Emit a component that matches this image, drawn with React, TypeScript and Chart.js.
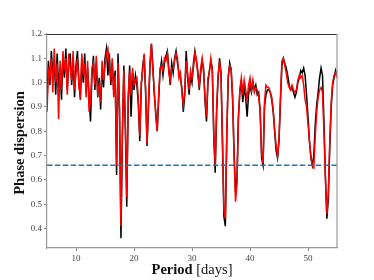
import React, { useEffect, useRef } from "react";
import { Chart, registerables } from "chart.js";

Chart.register(...registerables);

// Period grid: starts at 5 days, 0.25-day steps, up to 55 days
const PERIOD_START = 5;
const PERIOD_STEP = 0.25;

// Phase dispersion, first series (black), 4 samples per day
const BLACK_VALUES = [
  0.92, 1.09, 0.99, 1.13, // 5
  1.03, 1.10, 0.95, 1.12, // 6
  0.98, 1.06, 0.93, 1.11, // 7
  1.02, 1.14, 0.97, 1.08, // 8
  1.12, 0.99, 1.10, 0.94, // 9
  1.07, 1.13, 1.01, 0.93, // 10
  1.09, 1.00, 1.12, 0.96, // 11
  1.06, 0.95, 0.84, 1.03, // 12
  1.11, 0.97, 1.08, 0.94, // 13
  1.02, 0.89, 1.06, 0.98, // 14
  1.10, 1.14, 1.03, 1.12, // 15
  0.99, 1.08, 0.97, 1.05, // 16
  0.62, 1.12, 0.88, 0.36, // 17
  0.78, 1.07, 0.82, 0.49, // 18
  0.92, 1.07, 0.86, 1.04, // 19
  0.97, 1.03, 0.99, 0.91, // 20
  0.76, 0.98, 1.07, 1.11, // 21
  0.96, 0.74, 0.90, 1.06, // 22
  1.16, 1.07, 0.95, 0.88, // 23
  0.80, 0.93, 1.05, 1.09, // 24
  1.03, 1.08, 1.11, 1.13, // 25
  1.06, 0.99, 1.08, 1.04, // 26
  1.10, 1.13, 1.08, 1.04, // 27
  1.02, 0.98, 0.88, 0.95, // 28
  1.13, 1.02, 0.95, 1.03, // 29
  1.00, 1.08, 1.13, 1.09, // 30
  1.05, 0.97, 1.04, 1.09, // 31
  1.06, 0.92, 0.84, 1.00, // 32
  1.05, 1.09, 1.06, 0.78, // 33
  0.63, 0.88, 1.02, 1.10, // 34
  1.04, 0.75, 0.45, 0.41, // 35
  0.78, 1.02, 1.08, 1.05, // 36
  0.93, 0.72, 0.55, 0.60, // 37
  0.86, 0.96, 1.01, 0.92, // 38
  0.98, 0.94, 0.86, 0.95, // 39
  0.99, 0.96, 1.00, 0.97, // 40
  0.99, 0.95, 0.96, 0.88, // 41
  0.69, 0.66, 0.90, 0.95, // 42
  0.97, 0.97, 0.96, 0.93, // 43
  0.88, 0.80, 0.72, 0.69, // 44
  0.76, 0.92, 1.07, 1.10, // 45
  1.08, 1.06, 1.03, 0.99, // 46
  0.97, 0.98, 0.96, 0.94, // 47
  0.96, 1.00, 1.02, 1.05, // 48
  1.04, 1.06, 1.03, 0.95, // 49
  0.86, 0.76, 0.69, 0.66, // 50
  0.70, 0.83, 0.91, 0.96, // 51
  1.02, 1.06, 1.03, 0.84, // 52
  0.62, 0.44, 0.52, 0.73, // 53
  0.90, 0.99, 1.02, 1.05, // 54
  1.03, // 55
];

// Phase dispersion, second series (red), same grid
const RED_VALUES = [
  0.88, 1.05, 1.02, 1.10, // 5
  0.96, 1.14, 1.00, 1.08, // 6
  0.85, 1.09, 0.97, 1.13, // 7
  1.05, 1.10, 0.95, 1.12, // 8
  1.06, 1.01, 1.13, 0.97, // 9
  1.04, 1.10, 0.98, 0.95, // 10
  1.12, 1.03, 1.08, 0.94, // 11
  1.09, 0.88, 0.92, 1.06, // 12
  1.08, 0.99, 1.11, 0.96, // 13
  0.99, 0.92, 1.09, 1.01, // 14
  1.07, 1.12, 1.14, 1.06, // 15
  1.02, 1.10, 0.94, 1.03, // 16
  0.66, 1.08, 0.90, 0.41, // 17
  0.80, 1.05, 0.85, 0.53, // 18
  0.95, 1.05, 0.95, 1.06, // 19
  0.99, 1.01, 1.02, 0.93, // 20
  0.78, 1.00, 1.05, 1.12, // 21
  0.98, 0.75, 0.92, 1.08, // 22
  1.16, 1.05, 0.97, 0.86, // 23
  0.80, 0.95, 1.06, 1.07, // 24
  1.05, 1.10, 1.09, 1.12, // 25
  1.04, 1.01, 1.06, 1.06, // 26
  1.09, 1.12, 1.10, 1.02, // 27
  1.04, 0.96, 0.91, 0.97, // 28
  1.09, 1.04, 0.97, 1.05, // 29
  1.02, 1.06, 1.12, 1.10, // 30
  1.03, 0.99, 1.06, 1.10, // 31
  1.04, 0.94, 0.86, 1.02, // 32
  1.04, 1.10, 1.05, 0.80, // 33
  0.66, 0.90, 1.03, 1.09, // 34
  1.03, 0.78, 0.48, 0.44, // 35
  0.80, 1.03, 1.07, 1.06, // 36
  0.95, 0.70, 0.51, 0.58, // 37
  0.85, 0.97, 1.02, 0.95, // 38
  1.01, 0.97, 0.93, 0.99, // 39
  1.02, 0.97, 1.01, 0.96, // 40
  0.98, 0.97, 0.94, 0.89, // 41
  0.71, 0.67, 0.92, 0.99, // 42
  0.98, 0.98, 0.96, 0.94, // 43
  0.89, 0.81, 0.74, 0.70, // 44
  0.77, 0.94, 1.09, 1.10, // 45
  1.07, 1.04, 1.00, 0.98, // 46
  0.97, 0.99, 0.97, 0.96, // 47
  0.97, 1.01, 1.03, 1.02, // 48
  1.03, 0.99, 0.93, 0.90, // 49
  0.83, 0.76, 0.70, 0.66, // 50
  0.65, 0.78, 0.88, 0.94, // 51
  0.97, 0.98, 0.96, 0.80, // 52
  0.60, 0.46, 0.55, 0.76, // 53
  0.92, 1.00, 1.03, 1.04, // 54
  1.02, // 55
];

const THRESHOLD = 0.66;
const X_RANGE = [5, 55];
const Y_RANGE = [0.32, 1.2];
const X_TICKS = [10, 20, 30, 40, 50];
const Y_TICKS = [0.4, 0.5, 0.6, 0.7, 0.8, 0.9, 1.0, 1.1, 1.2];

const toPoints = (vals: number[]) =>
  vals.map((v, i) => ({ x: PERIOD_START + i * PERIOD_STEP, y: v }));

const SERIF = '"Liberation Serif", "DejaVu Serif", serif';

const framePlugin = {
  id: "frameAndTitles",
  afterDraw(chart: any) {
    const { ctx, chartArea: a } = chart;
    ctx.save();
    // top spine (dark)
    ctx.strokeStyle = "#333";
    ctx.lineWidth = 1;
    ctx.beginPath();
    ctx.moveTo(a.left, a.top + 0.5);
    ctx.lineTo(a.right, a.top + 0.5);
    ctx.stroke();
    // right spine
    ctx.strokeStyle = "#999";
    ctx.lineWidth = 1.2;
    ctx.beginPath();
    ctx.moveTo(a.right, a.top);
    ctx.lineTo(a.right, a.bottom);
    ctx.stroke();

    // y title
    ctx.fillStyle = "#111";
    ctx.font = `bold 14.5px ${SERIF}`;
    ctx.textAlign = "center";
    ctx.textBaseline = "alphabetic";
    ctx.save();
    ctx.translate(24, (a.top + a.bottom) / 2 + 2);
    ctx.rotate(-Math.PI / 2);
    ctx.fillText("Phase dispersion", 0, 0);
    ctx.restore();

    // x title: bold "Period" + regular " [days]"
    const boldFont = `bold 14.5px ${SERIF}`;
    const normFont = `14.5px ${SERIF}`;
    ctx.font = boldFont;
    const w1 = ctx.measureText("Period").width;
    ctx.font = normFont;
    const w2 = ctx.measureText(" [days]").width;
    const cx = (a.left + a.right) / 2;
    const x0 = cx - (w1 + w2) / 2;
    ctx.textAlign = "left";
    ctx.font = boldFont;
    ctx.fillText("Period", x0, 273.5);
    ctx.font = normFont;
    ctx.fillText(" [days]", x0 + w1, 273.5);
    ctx.restore();
  },
};

export default function App() {
  const ref = useRef<HTMLCanvasElement | null>(null);

  useEffect(() => {
    if (!ref.current) return;
    const chart = new Chart(ref.current, {
      type: "line",
      data: {
        datasets: [
          {
            label: "threshold",
            data: [
              { x: X_RANGE[0], y: THRESHOLD },
              { x: X_RANGE[1], y: THRESHOLD },
            ],
            borderColor: "#1f77b4",
            borderWidth: 1.5,
            borderDash: [5.5, 2.4],
            pointRadius: 0,
            order: 1,
          },
          {
            label: "red",
            data: toPoints(RED_VALUES),
            borderColor: "#ff0000",
            borderWidth: 1.5,
            pointRadius: 0,
            tension: 0,
            order: 2,
          },
          {
            label: "black",
            data: toPoints(BLACK_VALUES),
            borderColor: "#000000",
            borderWidth: 1.5,
            pointRadius: 0,
            tension: 0,
            order: 3,
          },
        ],
      },
      options: {
        responsive: false,
        animation: false,
        events: [],
        layout: { padding: { left: 0, top: 34, right: 37, bottom: 0 } },
        plugins: {
          legend: { display: false },
          tooltip: { enabled: false },
          title: { display: false },
        },
        scales: {
          x: {
            type: "linear",
            min: X_RANGE[0],
            max: X_RANGE[1],
            afterBuildTicks: (s: any) => {
              s.ticks = X_TICKS.map((v) => ({ value: v }));
            },
            afterFit: (s: any) => {
              s.height = 32;
            },
            ticks: {
              font: { family: SERIF, size: 9 },
              color: "#444",
              padding: 2,
              maxRotation: 0,
              callback: (v: any) => String(v),
            },
            grid: {
              display: true,
              drawOnChartArea: false,
              drawTicks: true,
              tickLength: 3,
              color: "#888",
            },
            border: { display: true, color: "#999", width: 1.2 },
          },
          y: {
            type: "linear",
            min: Y_RANGE[0],
            max: Y_RANGE[1],
            afterBuildTicks: (s: any) => {
              s.ticks = Y_TICKS.map((v) => ({ value: v }));
            },
            afterFit: (s: any) => {
              s.width = 47;
            },
            ticks: {
              font: { family: SERIF, size: 9 },
              color: "#444",
              padding: 2,
              callback: (v: any) => Number(v).toFixed(1),
            },
            grid: {
              display: true,
              drawOnChartArea: false,
              drawTicks: true,
              tickLength: 3,
              color: "#888",
            },
            border: { display: true, color: "#999", width: 1.2 },
          },
        },
      },
      plugins: [framePlugin],
    });
    return () => chart.destroy();
  }, []);

  return (
    <div style={{ position: "absolute", left: 0, top: 0, width: 374, height: 280, background: "#fff" }}>
      <canvas ref={ref} width={374} height={280} style={{ display: "block", width: 374, height: 280 }} />
    </div>
  );
}
